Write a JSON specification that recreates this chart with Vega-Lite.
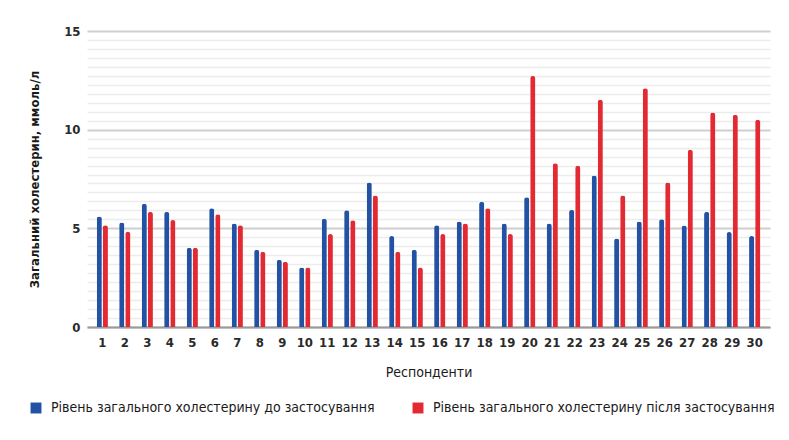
{
  "$schema": "https://vega.github.io/schema/vega-lite/v6.json",
  "autosize": "none",
  "width": 683,
  "height": 296,
  "padding": {"left": 87, "top": 31, "right": 19, "bottom": 113},
  "background": "white",
  "datasets": {
    "chol": [
      {"r": 1, "before": 5.6, "after": 5.15},
      {"r": 2, "before": 5.3, "after": 4.83},
      {"r": 3, "before": 6.24, "after": 5.83},
      {"r": 4, "before": 5.83, "after": 5.42},
      {"r": 5, "before": 4.02, "after": 4.02},
      {"r": 6, "before": 6.02, "after": 5.71},
      {"r": 7, "before": 5.25, "after": 5.15},
      {"r": 8, "before": 3.92, "after": 3.81},
      {"r": 9, "before": 3.41, "after": 3.31},
      {"r": 10, "before": 3.02, "after": 3.02},
      {"r": 11, "before": 5.49, "after": 4.71},
      {"r": 12, "before": 5.92, "after": 5.41},
      {"r": 13, "before": 7.32, "after": 6.66},
      {"r": 14, "before": 4.61, "after": 3.81},
      {"r": 15, "before": 3.92, "after": 3.02},
      {"r": 16, "before": 5.15, "after": 4.71},
      {"r": 17, "before": 5.34, "after": 5.25},
      {"r": 18, "before": 6.34, "after": 6.02},
      {"r": 19, "before": 5.24, "after": 4.71},
      {"r": 20, "before": 6.58, "after": 12.72},
      {"r": 21, "before": 5.24, "after": 8.3},
      {"r": 22, "before": 5.93, "after": 8.17},
      {"r": 23, "before": 7.68, "after": 11.51},
      {"r": 24, "before": 4.49, "after": 6.66},
      {"r": 25, "before": 5.34, "after": 12.1},
      {"r": 26, "before": 5.46, "after": 7.32},
      {"r": 27, "before": 5.14, "after": 8.98},
      {"r": 28, "before": 5.83, "after": 10.87},
      {"r": 29, "before": 4.81, "after": 10.75},
      {"r": 30, "before": 4.61, "after": 10.5}
    ]
  },
  "data": {"name": "chol"},
  "transform": [
    {"fold": ["before", "after"], "as": ["key", "value"]},
    {"calculate": "datum.key === 'before' ? 'Рівень загального холестерину до застосування' : 'Рівень загального холестерину після застосування'", "as": "series"}
  ],
  "mark": {"type": "bar", "cornerRadiusEnd": 2.5},
  "encoding": {
    "x": {
      "field": "r",
      "type": "ordinal",
      "title": "Респонденти",
      "scale": {"paddingInner": 0.5, "paddingOuter": 0.43},
      "axis": {
        "labelAngle": 0,
        "ticks": false,
        "domainColor": "#9a9a9a",
        "domainWidth": 2,
        "labelPadding": 9,
        "labelFontSize": 13,
        "labelFontWeight": "bold",
        "labelColor": "#2a2a2a",
        "titleFontSize": 14,
        "titleFontWeight": "normal",
        "titleColor": "#1a1a1a",
        "titlePadding": 16
      }
    },
    "xOffset": {
      "field": "key",
      "type": "nominal",
      "sort": ["before", "after"],
      "scale": {"paddingInner": 0.15}
    },
    "y": {
      "field": "value",
      "type": "quantitative",
      "title": "Загальний холестерин, ммоль/л",
      "scale": {"domain": [0, 15], "nice": false},
      "axis": {
        "values": [0, 0.4545, 0.9091, 1.3636, 1.8182, 2.2727, 2.7273, 3.1818, 3.6364, 4.0909, 4.5455, 5, 5.4545, 5.9091, 6.3636, 6.8182, 7.2727, 7.7273, 8.1818, 8.6364, 9.0909, 9.5455, 10, 10.4545, 10.9091, 11.3636, 11.8182, 12.2727, 12.7273, 13.1818, 13.6364, 14.0909, 14.5455, 15],
        "labelExpr": "datum.value % 5 === 0 ? datum.value : ''",
        "domain": false,
        "ticks": false,
        "labelPadding": 7,
        "labelFontSize": 13,
        "labelFontWeight": "bold",
        "labelColor": "#2a2a2a",
        "gridColor": {"condition": {"test": "datum.value % 5 === 0", "value": "#cfcfcf"}, "value": "#ececec"},
        "gridWidth": {"condition": {"test": "datum.value % 5 === 0", "value": 2}, "value": 1.5},
        "titleFontSize": 13,
        "titleFontWeight": "bold",
        "titleColor": "#1a1a1a",
        "titlePadding": 22
      }
    },
    "color": {
      "field": "series",
      "type": "nominal",
      "scale": {
        "domain": ["Рівень загального холестерину до застосування", "Рівень загального холестерину після застосування"],
        "range": ["#2352a4", "#e32a32"]
      },
      "legend": {
        "title": null,
        "orient": "none",
        "legendX": -58,
        "legendY": 370,
        "direction": "horizontal",
        "columns": 2,
        "columnPadding": 36,
        "symbolType": "square",
        "symbolSize": 120,
        "symbolStrokeWidth": 0,
        "labelFontSize": 14,
        "labelColor": "#1a1a1a",
        "labelLimit": 400,
        "labelOffset": 8
      }
    }
  },
  "config": {
    "font": "DejaVu Sans Condensed",
    "view": {"stroke": null},
    "axis": {"gridCap": "butt"}
  }
}
